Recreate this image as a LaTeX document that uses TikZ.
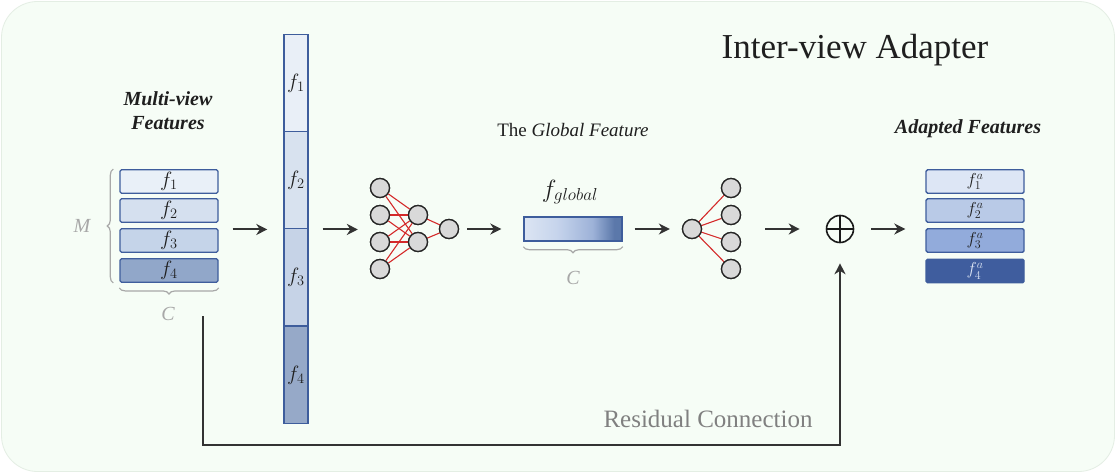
\documentclass[tikz,border=0pt]{standalone}
\usepackage{fontspec}
\setmainfont{Liberation Serif}
\usetikzlibrary{arrows.meta,decorations.pathreplacing,calc}
\definecolor{bgc}{HTML}{F6FDF6}
\definecolor{bgline}{HTML}{E4EEE4}
\definecolor{bord}{HTML}{3E5D9C}
\definecolor{txt}{HTML}{1F1F1F}
\definecolor{graytxt}{HTML}{A8A8A8}
\definecolor{restxt}{HTML}{808080}
\definecolor{lfa}{HTML}{E9F0F8}
\definecolor{lfb}{HTML}{D5E0EF}
\definecolor{lfc}{HTML}{C5D4E9}
\definecolor{lfd}{HTML}{91A7C9}
\definecolor{cfa}{HTML}{E9EFF7}
\definecolor{cfb}{HTML}{D8E2EF}
\definecolor{cfc}{HTML}{C6D3E7}
\definecolor{cfd}{HTML}{96A9C8}
\definecolor{rfa}{HTML}{DDE6F5}
\definecolor{rfb}{HTML}{B9CAE7}
\definecolor{rfc}{HTML}{92ABDB}
\definecolor{rfd}{HTML}{3F5D9E}
\definecolor{gla}{HTML}{DCE5F3}
\definecolor{glm}{HTML}{C6D4EC}
\definecolor{glb}{HTML}{9DB2D8}
\definecolor{glc}{HTML}{5B78AA}
\definecolor{nodefill}{HTML}{D9D9D9}
\definecolor{edgered}{HTML}{D42A2A}
\pgfdeclarehorizontalshading{gshade}{100bp}{color(0bp)=(gla); color(25bp)=(gla); color(42bp)=(glm); color(60bp)=(glb); color(71bp)=(glc); color(100bp)=(glc)}
\begin{document}
\begin{tikzpicture}[x=1pt,y=-1pt,
  featbox/.style={draw=bord, line width=1.4pt, rounded corners=1.5pt, minimum width=98pt, minimum height=23.5pt, inner sep=0pt, text=txt, font=\fontsize{20}{20}\selectfont},
  colbox/.style={draw=bord, line width=1.4pt, minimum width=24pt, minimum height=97.5pt, inner sep=0pt, text=txt, font=\fontsize{21}{21}\selectfont},
  adbox/.style={featbox, font=\fontsize{18.5}{18.5}\selectfont},
  neuron/.style={circle, draw=black!85, line width=1.3pt, fill=nodefill, minimum size=19pt, inner sep=0pt},
  nnedge/.style={draw=edgered, line width=1.1pt},
  arr/.style={draw=black!80, line width=2pt, -{Stealth[length=11pt,width=11pt,inset=3.5pt]}},
  brc/.style={draw=graytxt, line width=1.2pt, decorate, decoration={brace, amplitude=6pt}},
  heading/.style={text=txt, font=\fontsize{20}{24}\selectfont\bfseries\itshape, align=center},
  glab/.style={text=graytxt, font=\fontsize{20}{20}\selectfont\itshape}
]
\useasboundingbox (0,0) rectangle (1116,473);
\fill[white] (0,0) rectangle (1116,473);
\draw[draw=bgline, fill=bgc, line width=0.8pt, rounded corners=36pt] (1.5,1.5) rectangle (1114.5,471.5);

% title
\node[text=txt, font=\fontsize{35}{35}\selectfont] (title) at (855,50) {Inter-view Adapter};

% left stack
\node[heading] (mvh) at (168,111) {Multi-view\\Features};
\node[featbox, fill=lfa] (l1) at (169,181.5) {$f_1$};
\node[featbox, fill=lfb] (l2) at (169,210.5) {$f_2$};
\node[featbox, fill=lfc] (l3) at (169,240.5) {$f_3$};
\node[featbox, fill=lfd] (l4) at (169,270.5) {$f_4$};
\draw[brc] ([xshift=-6pt]l4.south west) -- ([xshift=-6pt]l1.north west);
\node[glab] (mlab) at (82,226) {M};
\draw[brc] ([yshift=-5pt]l4.south east) -- ([yshift=-5pt]l4.south west);
\node[glab] (clab1) at (168,314) {C};

% tall column
\node[colbox, fill=cfa] (c1) at (296,83) {$f_1$};
\node[colbox, fill=cfb] (c2) at (296,180) {$f_2$};
\node[colbox, fill=cfc] (c3) at (296,277) {$f_3$};
\node[colbox, fill=cfd] (c4) at (296,375) {$f_4$};

\draw[arr, shorten <=14pt, shorten >=16pt] (l2.east |- c2.south west) -- (c2.south west);

% NN 1
\node[neuron] (i1) at (380,188) {};
\node[neuron] (i2) at (380,215) {};
\node[neuron] (i3) at (380,242) {};
\node[neuron] (i4) at (380,269) {};
\node[neuron] (h1) at (418,215) {};
\node[neuron] (h2) at (418,242) {};
\node[neuron] (o1) at (449,229) {};
\foreach \a in {i1,i2,i3,i4}{\foreach \b in {h1,h2}{\draw[nnedge] (\a) -- (\b);}}
\foreach \a in {h1,h2}{\draw[nnedge] (\a) -- (o1);}
\foreach \n in {i1,i2,i3,i4,h1,h2,o1}{\node[neuron] at (\n) {};}

\draw[arr, shorten <=14pt, shorten >=12pt] (c2.south east) -- (i2.west |- c2.south east);

% global feature
\node[text=txt, font=\fontsize{19}{24}\selectfont] (gh) at (573,130) {The \textit{Global Feature}};
\node[text=txt, font=\fontsize{23}{23}\selectfont] (gl) at (570,192) {$f_{global}$};
\node[draw=bord, line width=1.4pt, minimum width=98pt, minimum height=24pt, inner sep=0pt, shading=gshade] (g) at (573,229) {};
\draw[brc] ([yshift=-5pt]g.south east) -- ([yshift=-5pt]g.south west);
\node[glab] (clab2) at (573,278) {C};

\draw[arr, shorten <=8pt, shorten >=22pt] (o1.east) -- (g.west);

% NN 2
\node[neuron] (p1) at (692,229) {};
\node[neuron] (q1) at (731,188) {};
\node[neuron] (q2) at (731,215) {};
\node[neuron] (q3) at (731,242) {};
\node[neuron] (q4) at (731,269) {};
\foreach \b in {q1,q2,q3,q4}{\draw[nnedge] (p1.center) -- (\b);}
\foreach \n in {p1,q1,q2,q3,q4}{\node[neuron] at (\n) {};}

\draw[arr, shorten <=12pt, shorten >=12pt] (g.east) -- (p1.west);

% plus
\node[circle, draw=black!90, line width=1.6pt, minimum size=27pt, inner sep=0pt,
  path picture={\draw[black!90, line width=1.4pt] (path picture bounding box.north) -- (path picture bounding box.south) (path picture bounding box.west) -- (path picture bounding box.east);}] (plus) at (840,229) {};

\draw[arr, shorten <=24pt, shorten >=26pt] (q2.east |- plus.west) -- (plus.west);

% adapted features
\node[heading] (ah) at (968,129) {Adapted Features};
\node[adbox, fill=rfa] (r1) at (975,181.5) {$f_1^a$};
\node[adbox, fill=rfb] (r2) at (975,210.5) {$f_2^a$};
\node[adbox, fill=rfc] (r3) at (975,240.5) {$f_3^a$};
\node[adbox, fill=rfd, text=rfa] (r4) at (975,271) {$f_4^a$};

\draw[arr, shorten <=17pt, shorten >=20pt] (plus.east) -- (plus.east -| r3.west);

% residual
\coordinate (rs) at (203,316);
\coordinate (rb) at (203,445);
\draw[arr, shorten >=20pt] (rs) -- (rb) -| (plus.south);
\node[text=restxt, font=\fontsize{25}{25}\selectfont] (res) at (708,419) {Residual Connection};
\end{tikzpicture}
\end{document}
